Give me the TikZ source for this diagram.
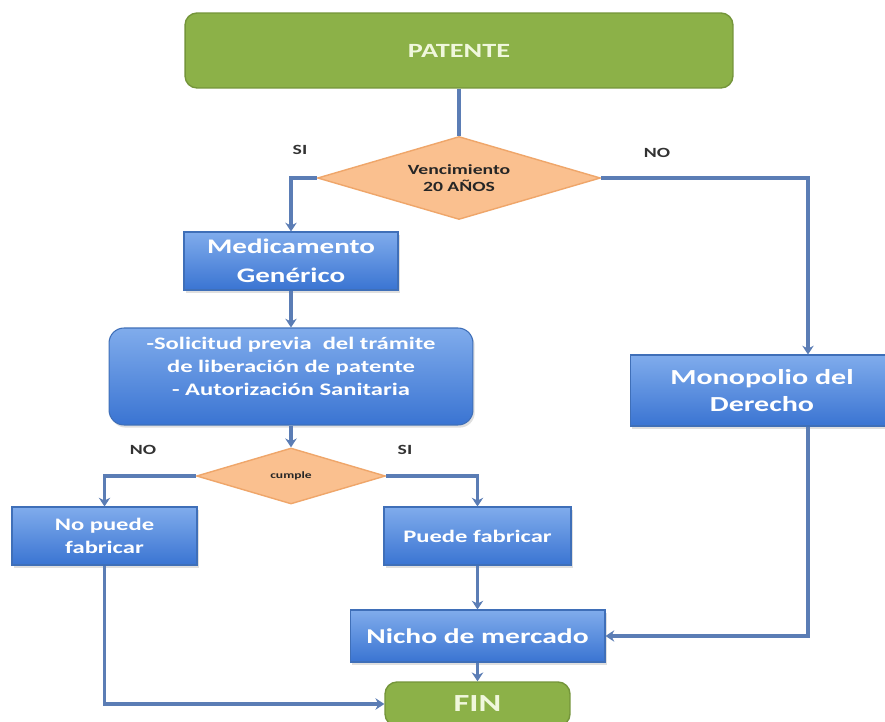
\documentclass[tikz,border=0pt]{standalone}
\usepackage{fontspec}
\setmainfont{Carlito}[FakeStretch=1.4]
\usepackage{tikz}
\usetikzlibrary{shapes.geometric,arrows.meta,shadows}

\definecolor{verde}{HTML}{8CB148}
\definecolor{verdeborde}{HTML}{74953A}
\definecolor{verdetexto}{HTML}{F0F7DC}
\definecolor{azularriba}{HTML}{80ACEC}
\definecolor{azulabajo}{HTML}{3A74D2}
\definecolor{azulborde}{HTML}{3F6FB8}
\definecolor{naranja}{HTML}{FAC08F}
\definecolor{naranjaborde}{HTML}{EFA66A}
\definecolor{conector}{HTML}{5B7DB5}

\begin{document}
\begin{tikzpicture}[x=0.02cm,y=-0.02cm,
    greenbox/.style={draw=verdeborde, line width=0.8pt, fill=verde, rounded corners=0.24cm,
        text=verdetexto, font=\bfseries},
    bluebox/.style={draw=azulborde, line width=0.6pt, top color=azularriba, bottom color=azulabajo,
        text=white, align=center, font=\bfseries,
        drop shadow={opacity=0.25, shadow xshift=1pt, shadow yshift=-1.5pt}},
    decision/.style={diamond, draw=naranjaborde, line width=0.8pt, fill=naranja, aspect=3.4,
        inner sep=0pt, align=center, text=black!85, font=\bfseries},
    conn/.style={draw=conector, line width=1.8pt},
    arr/.style={conn, -{Stealth[length=5pt,width=6.5pt]}},
    lbl/.style={text=black!80, font=\bfseries\fontsize{8}{9}\selectfont}]

    \useasboundingbox (0,0) rectangle (885,722);
    \fill[white] (0,0) rectangle (885,722);

    % boxes
    \node[greenbox, minimum width=10.96cm, minimum height=1.5cm,
        font=\bfseries\fontsize{11.5}{14}\selectfont] (patente) at (459,50.5) {PATENTE};
    \node[decision, minimum width=5.66cm, minimum height=1.66cm,
        font=\bfseries\fontsize{8}{9.7}\selectfont] (venc) at (459,178) {Vencimiento\\20 AÑOS};
    \node[bluebox, minimum width=4.28cm, minimum height=1.16cm,
        font=\bfseries\fontsize{11.8}{16.5}\selectfont] (medic) at (291,261) {Medicamento\\Genérico};
    \node[bluebox, rounded corners=0.3cm, minimum width=7.28cm, minimum height=1.94cm] (solic) at (291,376.5) {};
    \node[text=white, align=center, anchor=north, font=\bfseries\fontsize{10}{13}\selectfont]
        (solictxt) at ([yshift=-2pt]solic.north)
        {-Solicitud previa\ \ del trámite\\de liberación de patente\\- Autorización Sanitaria};
    \node[decision, minimum width=3.78cm, minimum height=1.12cm,
        font=\bfseries\fontsize{5.5}{6}\selectfont] (cumple) at (291,476) {cumple};
    \node[bluebox, minimum width=3.7cm, minimum height=1.16cm,
        font=\bfseries\fontsize{10}{13}\selectfont] (nopuede) at (104.5,536) {No puede\\fabricar};
    \node[bluebox, minimum width=3.74cm, minimum height=1.16cm,
        font=\bfseries\fontsize{10}{13}\selectfont] (puede) at (477.5,536) {Puede fabricar};
    \node[bluebox, minimum width=5.1cm, minimum height=1.04cm,
        font=\bfseries\fontsize{12}{15}\selectfont] (nicho) at (477.5,636) {Nicho de mercado};
    \node[greenbox, minimum width=3.7cm, minimum height=0.88cm,
        font=\bfseries\fontsize{14}{16}\selectfont] (fin) at (477.5,704) {FIN};
    \node[bluebox, minimum width=5.28cm, minimum height=1.42cm,
        font=\bfseries\fontsize{12.2}{15.4}\selectfont] (monop) at (762,390.5) {Monopolio del\\Derecho};

    % labels
    \node[lbl] (si1) at (300,150) {SI};
    \node[lbl] (no1) at (657,153) {NO};
    \node[lbl] (no2) at (143,450) {NO};
    \node[lbl] (si2) at (405,450) {SI};

    % connectors
    \draw[conn] (patente) -- (venc);
    \draw[arr] (venc.west) -| (medic.north);
    \draw[arr] (venc.east) -| ([xshift=0.92cm]monop.north);
    \draw[arr] (medic) -- (solic);
    \draw[arr] (solic) -- (cumple);
    \draw[arr] (cumple.west) -| (nopuede.north);
    \draw[arr] (cumple.east) -| (puede.north);
    \draw[arr] (puede) -- (nicho);
    \draw[arr] ([xshift=0.92cm]monop.south) |- (nicho.east);
    \draw[arr] (nicho) -- (fin);
    \draw[arr] (nopuede.south) |- (fin.west);
\end{tikzpicture}
\end{document}
